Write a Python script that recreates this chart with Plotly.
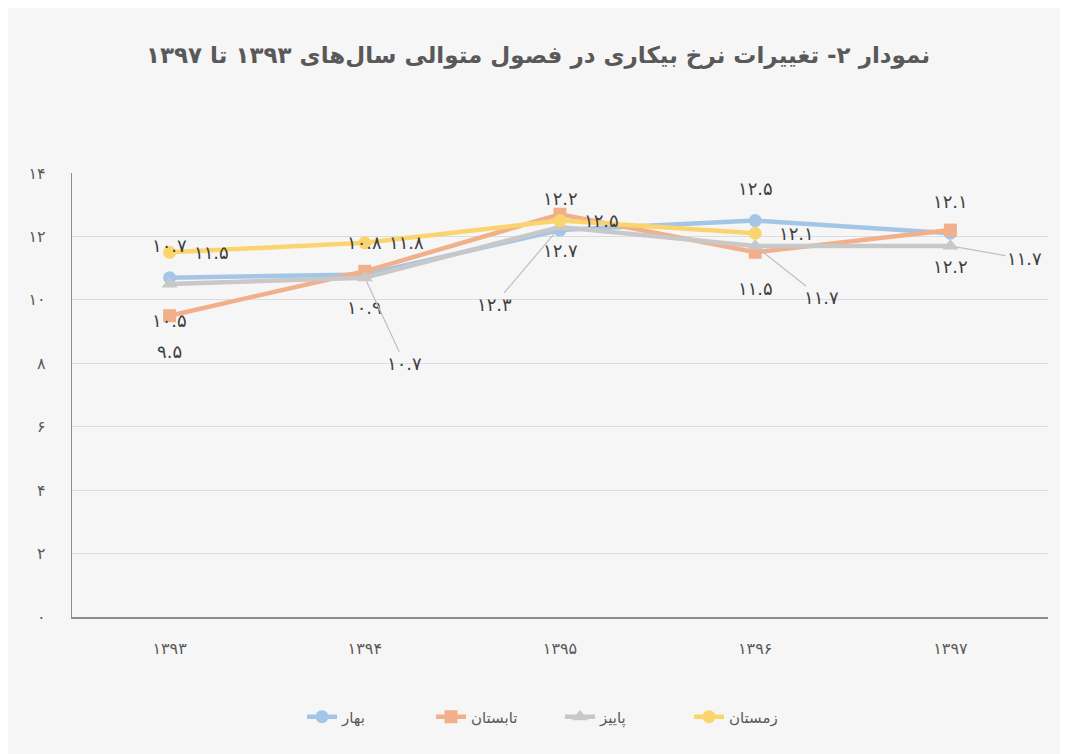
import plotly.graph_objects as go

years = ["۱۳۹۳", "۱۳۹۴", "۱۳۹۵", "۱۳۹۶", "۱۳۹۷"]
spring = [10.7, 10.8, 12.2, 12.5, 12.1]   # بهار
summer = [9.5, 10.9, 12.7, 11.5, 12.2]    # تابستان
autumn = [10.5, 10.7, 12.3, 11.7, 11.7]   # پاییز
winter = [11.5, 11.8, 12.5, 12.1, None]   # زمستان

y_ticks = [0, 2, 4, 6, 8, 10, 12, 14]

names = ["بهار", "تابستان", "پاییز", "زمستان"]
colors = ["#a4c6e6", "#f2b08a", "#c8c8c8", "#fad56e"]
symbols = ["circle", "square", "triangle-up", "circle"]
series = [spring, summer, autumn, winter]

FONT = "DejaVu Sans"
TXT = "#404040"


def fa(s):
    return str(s).translate(str.maketrans("0123456789", "۰۱۲۳۴۵۶۷۸۹"))


fig = go.Figure()
for name, col, sym, vals in zip(names, colors, symbols, series):
    fig.add_trace(go.Scatter(
        x=years, y=vals, name=name, mode="lines+markers",
        line=dict(color=col, width=4.5),
        marker=dict(color=col, symbol=sym, size=13 if sym != "triangle-up" else 14),
        connectgaps=False,
    ))

LBL = dict(family=FONT, size=18, color=TXT)
annotations = []
# label placement per series: (xshift, yshift, xanchor)
place = {
    0: (0, 32, "center"),    # spring above
    1: (0, -36, "center"),   # summer below
    3: (22, 0, "left"),      # winter right
}
for si, (xs, ys, xa) in place.items():
    for yr, v in zip(years, series[si]):
        if v is None:
            continue
        annotations.append(dict(
            x=yr, y=v, text=fa(v), showarrow=False, xshift=xs, yshift=ys,
            xanchor=xa, font=LBL))

# autumn labels (some with leader lines)
autumn_offsets = [(0, -36, False), (40, 86, True), (-66, 78, True), (66, 52, True), (74, 13, True)]
for yr, v, (ax, ay, arrow) in zip(years, autumn, autumn_offsets):
    if arrow:
        annotations.append(dict(
            x=yr, y=v, text=fa(v), showarrow=True, ax=ax, ay=ay,
            arrowhead=0, arrowwidth=1.2, arrowcolor="#bfbfbf", standoff=4, font=LBL))
    else:
        annotations.append(dict(
            x=yr, y=v, text=fa(v), showarrow=False, yshift=ay, font=LBL))

fig.update_layout(
    width=1060, height=746,
    margin=dict(l=64, r=20, t=165, b=137),
    paper_bgcolor="#f6f6f6", plot_bgcolor="rgba(0,0,0,0)",
    title=dict(
        text="<b>نمودار ۲- تغییرات نرخ بیکاری در فصول متوالی سال‌های ۱۳۹۳ تا ۱۳۹۷</b>",
        x=0.5, xanchor="center", y=0.937, yanchor="middle",
        font=dict(family=FONT, size=23, color="#595959")),
    showlegend=True,
    legend=dict(orientation="h", x=0.5, xanchor="center", y=-0.225, yanchor="middle",
                font=dict(family=FONT, size=15, color="#595959"),
                bgcolor="rgba(0,0,0,0)", entrywidth=84, entrywidthmode="pixels"),
    annotations=annotations,
    xaxis=dict(
        type="category", range=[-0.5, len(years) - 0.5],
        showgrid=False, showline=True, linecolor="#8c8c8c", linewidth=1.5,
        tickfont=dict(family=FONT, size=16, color="#595959"),
        ticks="", ticklabelstandoff=16, fixedrange=True, automargin=False,
    ),
    yaxis=dict(
        range=[0, 14], tickvals=y_ticks, ticktext=[fa(t) for t in y_ticks],
        showgrid=True, gridcolor="#dcdcdc", gridwidth=1.2,
        showline=True, linecolor="#8c8c8c", linewidth=1.2,
        zeroline=False, automargin=False,
        tickfont=dict(family=FONT, size=16, color="#595959"),
        ticks="", ticklabelstandoff=22,
    ),
    shapes=[dict(type="rect", xref="paper", yref="paper",
                 x0=-0.0676, x1=1.2, y0=-0.6, y1=1.378,
                 line=dict(color="#dcdcdc", width=2.5), fillcolor="rgba(0,0,0,0)",
                 layer="below")],
)

fig.write_html("out.html")
